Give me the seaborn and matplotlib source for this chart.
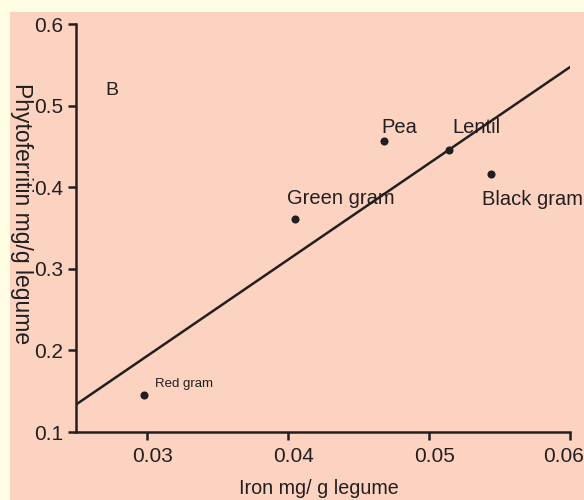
import matplotlib
matplotlib.use("Agg")
import matplotlib.pyplot as plt
from matplotlib.patches import Rectangle
from matplotlib.transforms import ScaledTranslation
import seaborn as sns
import pandas as pd

# Legume iron content vs phytoferritin content
legumes = ["Red gram", "Green gram", "Pea", "Lentil", "Black gram"]
iron_mg_per_g = [0.0298, 0.0405, 0.0468, 0.0514, 0.0544]
phytoferritin_mg_per_g = [0.145, 0.361, 0.457, 0.446, 0.416]

x_ticks = [0.03, 0.04, 0.05, 0.06]
y_ticks = [0.1, 0.2, 0.3, 0.4, 0.5, 0.6]

df = pd.DataFrame({"legume": legumes, "iron": iron_mg_per_g,
                   "phytoferritin": phytoferritin_mg_per_g})

sns.set_theme(style="ticks")
plt.rcParams["font.family"] = ["Liberation Sans", "DejaVu Sans"]

ink = "#231f20"
W, H = 584, 500
fig = plt.figure(figsize=(W / 100, H / 100), dpi=100, facecolor="#fffde3")
# pink panel behind the plot
fig.patches.append(Rectangle((10 / W, 0), 1, 1 - 12 / H, transform=fig.transFigure,
                             facecolor="#fcd3c1", edgecolor="none", zorder=-10))

ax = fig.add_axes([76 / W, 68 / H, (570 - 76) / W, (432 - 24) / H])
ax.set_zorder(5)
ax.set_facecolor("none")
ax.set_xlim(0.025, 0.06)
ax.set_ylim(0.1, 0.6)

sns.regplot(data=df, x="iron", y="phytoferritin", ax=ax, ci=None, truncate=False,
            scatter_kws=dict(s=34, color=ink, alpha=1, linewidths=0, zorder=3),
            line_kws=dict(color=ink, lw=1.8))

# label placement (pixel offsets from each point), font size
label_style = {"Red gram": (11, 8, 9.5),
               "Green gram": (-8, 15, 14.5),
               "Pea": (-2, 8, 14.5),
               "Lentil": (4, 17, 14.5),
               "Black gram": (-9, -31, 14.5)}
for name, xv, yv in zip(legumes, iron_mg_per_g, phytoferritin_mg_per_g):
    dx, dy, fs = label_style[name]
    ax.annotate(name, (xv, yv), xytext=(dx, dy), textcoords="offset pixels",
                ha="left", va="baseline", fontsize=fs, color=ink)

ax.text(0.059, 0.826, "B", transform=ax.transAxes, fontsize=14, color=ink,
        ha="left", va="baseline")

ax.set_xticks(x_ticks)
ax.set_xticklabels([f"{v:.2f}" for v in x_ticks])
ax.set_yticks(y_ticks)
ax.set_yticklabels([f"{v:.1f}" for v in y_ticks])
ax.tick_params(colors=ink, labelsize=15, width=1.8, length=6, pad=3,
               labelcolor=ink)
ax.tick_params(axis="x", pad=5)
for side in ("top", "right"):
    ax.spines[side].set_visible(False)
for side in ("left", "bottom"):
    ax.spines[side].set_color(ink)
    ax.spines[side].set_linewidth(1.8)

# nudge x tick labels; keep the last one inside the figure
xlabels = ax.get_xticklabels()
for i, lab in enumerate(xlabels):
    shift = -6 if i == len(xlabels) - 1 else 6
    lab.set_transform(lab.get_transform() + ScaledTranslation(shift / 100, 0, fig.dpi_scale_trans))

ax.set_xlabel("Iron mg/ g legume", fontsize=14.2, color=ink, va="top")
ax.xaxis.set_label_coords((319 - 76) / 494, ((H - 479) - 68) / 408)
ax.set_ylabel("Phytoferritin mg/g legume", fontsize=16.5, color=ink, rotation=270,
              va="center", ha="center", rotation_mode="anchor")
ax.yaxis.set_label_coords((21 - 76) / 494, ((H - 214) - 68) / 408)

fig.savefig("out.png", dpi=100, facecolor=fig.get_facecolor())
